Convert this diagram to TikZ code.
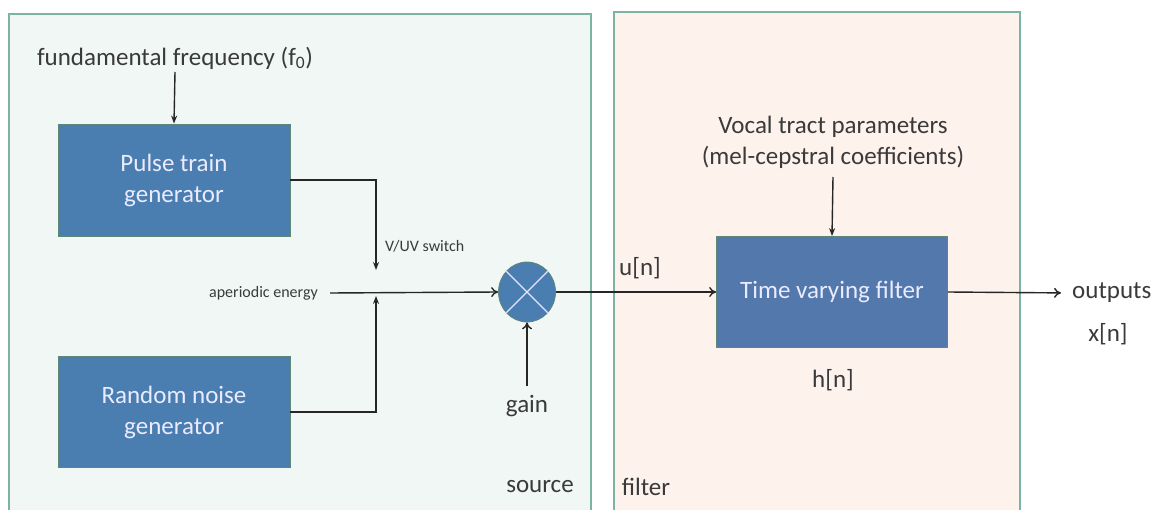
\documentclass[tikz,border=0pt]{standalone}
\usepackage{fontspec}
\setmainfont{Carlito}
\usetikzlibrary{arrows.meta,shapes.geometric}
\definecolor{srcfill}{HTML}{F1F7F5}
\definecolor{fltfill}{HTML}{FDF2EC}
\definecolor{panelline}{HTML}{7DB3A2}
\definecolor{boxblue}{HTML}{4A7DB0}
\definecolor{boxblueB}{HTML}{5379AC}
\definecolor{txt}{HTML}{3A3A3A}
\tikzset{
  panel/.style={draw=panelline, line width=1.5pt},
  block/.style={draw=panelline!75!black, line width=0.8pt, fill=boxblue, text=white!92!blue,
    font=\fontsize{25}{31}\selectfont, align=center, inner sep=0pt},
  lbl/.style={text=txt, font=\fontsize{25}{31}\selectfont, inner sep=0pt},
  small/.style={text=txt, font=\fontsize{16}{19}\selectfont, inner sep=0pt},
  wire/.style={draw=black!85, line width=1.4pt},
  arr/.style={wire, -{To[length=7pt,width=10pt]}},
  varr/.style={wire, -{Stealth[length=8pt,width=6pt]}},
}
\begin{document}
\begin{tikzpicture}[x=1pt,y=-1pt]
\useasboundingbox (0,0) rectangle (1158,510);
% panels
\draw[panel, fill=srcfill] (9,14) rectangle (591,514);
\draw[panel, fill=fltfill] (614,12) rectangle (1020,514);
% source blocks
\node[block, minimum width=232, minimum height=112] (pulse) at (174,180) {Pulse train\\generator};
\node[block, minimum width=232, minimum height=111] (noise) at (174,412) {Random noise\\generator};
\node[lbl] (f0) at (175,58) {fundamental frequency (f\textsubscript{0})};
\draw[varr] (f0.south |- 0,72) -- (pulse.north);
% junction
\coordinate (swtop) at (376,270);
\coordinate (swbot) at (376,296);
\node[small, anchor=west] (vuv) at (385,246) {V/UV switch};
\node[small, anchor=east] (aper) at (318,293) {aperiodic energy};
\draw[varr] (pulse.east) -| (swtop);
\draw[varr] (noise.east) -| (swbot);
% multiplier
\node[ellipse, draw=panelline!75!black, line width=0.8pt, fill=boxblue, minimum width=57, minimum height=60, inner sep=0pt] (mult) at (527,292) {};
\draw[white!90!blue, line width=1.4pt] (mult.45) -- (mult.225) (mult.135) -- (mult.315);
\draw[arr] (aper.east) ++(12,0) -- (mult.west);
\node[lbl] (gain) at (527,406) {gain};
\draw[arr] (527,386) -- (mult.south);
\node[lbl] (src) at (540,487) {source};
% filter side
\node[block, fill=boxblueB, minimum width=231, minimum height=111] (tvf) at (832,292) {Time varying filter};
\node[lbl, align=center] (vt) at (833,142) {Vocal tract parameters\\(mel-cepstral coefficients)};
\draw[varr] (833,177) -- (tvf.north);
\draw[arr] (mult.east) -- (tvf.west);
\node[lbl] (un) at (640,268) {u[n]};
\node[lbl] (hn) at (833,380) {h[n]};
\node[lbl] (flt) at (646,487) {filter};
\node[lbl, anchor=west] (out) at (1072,293) {outputs};
\node[lbl] (xn) at (1108,334) {x[n]};
\draw[arr, shorten >=11pt] (tvf.east) -- (out.west);
\end{tikzpicture}
\end{document}
